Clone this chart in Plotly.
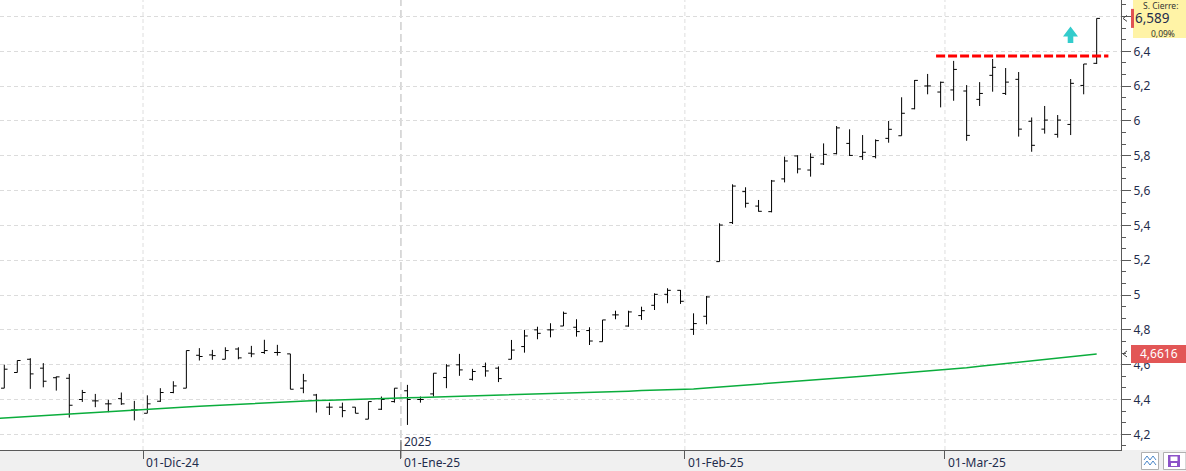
import pandas as pd
import plotly.graph_objects as go

# ---------------- data ----------------
HOLIDAYS = ["2024-12-25", "2024-12-26", "2025-01-01"]
DATES = [d for d in pd.bdate_range("2024-11-15", "2025-03-18") if d.strftime("%Y-%m-%d") not in HOLIDAYS]

OPEN = [4.465, 4.555, 4.631, 4.580, 4.525, 4.522, 4.400, 4.392, 4.375, 4.405, 4.340,
        4.321, 4.390, 4.440, 4.465, 4.654, 4.656, 4.631, 4.690, 4.666, 4.670, 4.670,
        4.662, 4.465, 4.426, 4.356, 4.356, 4.356, 4.287, 4.344, 4.388,
        4.450, 4.400, 4.432, 4.526, 4.599, 4.516, 4.589, 4.580, 4.631, 4.704, 4.800,
        4.800, 4.822, 4.815, 4.796, 4.732, 4.886, 4.822, 4.882, 4.941, 5.004, 5.027,
        4.803, 4.878, 5.192, 5.416, 5.594, 5.511, 5.479, 5.667, 5.799, 5.718, 5.753,
        5.812, 5.871, 5.795, 5.795, 5.900, 5.915, 6.070, 6.201, 6.166,
        6.178, 6.172, 6.124, 6.262, 6.158, 6.239, 5.998, 5.953, 5.923, 5.980, 6.204, 6.331]
HIGH = [4.600, 4.624, 4.637, 4.609, 4.532, 4.547, 4.455, 4.432, 4.398, 4.440, 4.392,
        4.424, 4.465, 4.505, 4.681, 4.695, 4.685, 4.700, 4.700, 4.708, 4.743, 4.714,
        4.662, 4.547, 4.432, 4.382, 4.382, 4.356, 4.388, 4.417, 4.465,
        4.484, 4.417, 4.551, 4.603, 4.662, 4.576, 4.612, 4.590, 4.742, 4.800, 4.818,
        4.838, 4.905, 4.861, 4.815, 4.857, 4.910, 4.910, 4.933, 5.010, 5.039, 5.029,
        4.895, 4.995, 5.412, 5.636, 5.619, 5.546, 5.661, 5.795, 5.803, 5.814, 5.871,
        5.971, 5.952, 5.919, 5.894, 6.000, 6.136, 6.235, 6.270, 6.226,
        6.345, 6.206, 6.223, 6.356, 6.304, 6.281, 6.020, 6.086, 6.034, 6.241, 6.327, 6.589]
LOW = [4.465, 4.555, 4.461, 4.470, 4.451, 4.296, 4.386, 4.356, 4.327, 4.369, 4.280,
       4.321, 4.386, 4.436, 4.465, 4.624, 4.628, 4.631, 4.631, 4.643, 4.662, 4.652,
       4.459, 4.436, 4.325, 4.311, 4.298, 4.321, 4.287, 4.340, 4.382,
       4.254, 4.382, 4.417, 4.465, 4.536, 4.509, 4.531, 4.500, 4.631, 4.669, 4.746,
       4.757, 4.822, 4.761, 4.713, 4.732, 4.861, 4.818, 4.857, 4.914, 4.953, 4.949,
       4.771, 4.832, 5.192, 5.408, 5.502, 5.479, 5.475, 5.647, 5.699, 5.680, 5.747,
       5.808, 5.799, 5.776, 5.785, 5.875, 5.915, 6.067, 6.153, 6.078,
       6.116, 5.886, 6.086, 6.168, 6.149, 5.910, 5.823, 5.927, 5.904, 5.919, 6.153, 6.327]
CLOSE = [4.574, 4.624, 4.547, 4.505, 4.530, 4.367, 4.440, 4.392, 4.375, 4.375, 4.340,
         4.375, 4.440, 4.478, 4.681, 4.647, 4.652, 4.681, 4.639, 4.662, 4.681, 4.670,
         4.459, 4.507, 4.394, 4.356, 4.336, 4.321, 4.388, 4.400, 4.465,
         4.400, 4.400, 4.551, 4.593, 4.570, 4.561, 4.564, 4.520, 4.684, 4.765, 4.780,
         4.800, 4.895, 4.790, 4.736, 4.857, 4.886, 4.903, 4.910, 5.004, 5.027, 4.964,
         4.836, 4.989, 5.402, 5.626, 5.527, 5.481, 5.655, 5.770, 5.724, 5.791, 5.808,
         5.960, 5.802, 5.820, 5.887, 5.952, 6.044, 6.233, 6.201, 6.222,
         6.296, 5.917, 6.158, 6.308, 6.223, 5.953, 5.860, 6.005, 6.005, 6.216, 6.327, 6.589]
MA = [4.293, 4.298, 4.302, 4.307, 4.312, 4.317, 4.321, 4.326, 4.331, 4.336, 4.340, 4.345,
      4.349, 4.353, 4.357, 4.361, 4.365, 4.369, 4.373, 4.376, 4.380, 4.384, 4.388, 4.392,
      4.394, 4.396, 4.399, 4.401, 4.403, 4.405, 4.408, 4.410,
      4.412, 4.414, 4.416, 4.419, 4.421, 4.423,
      4.425, 4.428, 4.430, 4.432, 4.435, 4.437, 4.439, 4.442, 4.444, 4.446, 4.448, 4.451,
      4.453, 4.455, 4.458, 4.460,
      4.466, 4.472, 4.477, 4.483, 4.489, 4.494, 4.500, 4.505, 4.511, 4.517, 4.522, 4.528,
      4.533, 4.539, 4.544, 4.550, 4.556, 4.561, 4.567,
      4.575, 4.583, 4.591, 4.599, 4.607, 4.615, 4.622, 4.630, 4.638, 4.646, 4.654, 4.6616]
MA_PREV = 4.289  # moving average on the session before the first visible bar

LAST_CLOSE = 6.589
CHANGE_PCT = "0,09%"
MA_LAST = 4.6616
RESISTANCE = 6.373
RESISTANCE_FROM = "2025-02-28"
MONTH_STARTS = ["2024-12-01", "2025-01-01", "2025-02-01", "2025-03-01"]
MONTH_ABBR = {1: "Ene", 2: "Feb", 3: "Mar", 12: "Dic"}
Y_TICKS = [4.2, 4.4, 4.6, 4.8, 5.0, 5.2, 5.4, 5.6, 5.8, 6.0, 6.2, 6.4, 6.6]
Y_TICK_HIDDEN = [6.6]  # label covered by the last-price box

# ---------------- layout helpers ----------------
W, H = 1186, 471
ML, MR, MT, MB = 0, 65, 0, 21
PW, PH = W - ML - MR, H - MT - MB
Y_MIN, Y_MAX = 4.1099, 6.6947
X_MIN, X_MAX = -0.33, 85.87

idx = list(range(len(DATES)))


def date_pos(d):
    d = pd.Timestamp(d)
    for i in range(len(DATES) - 1):
        if DATES[i] < d <= DATES[i + 1]:
            return i + (d - DATES[i]).days / (DATES[i + 1] - DATES[i]).days
    return float(idx[-1])


def px_x(p):  # pixel -> paper x
    return (p - ML) / PW


def px_y(p):  # pixel -> paper y
    return 1 - (p - MT) / PH


def val_y(v):  # value -> paper y
    return (v - Y_MIN) / (Y_MAX - Y_MIN)


month_pos = [date_pos(m) for m in MONTH_STARTS]
month_lbl = [f"01-{MONTH_ABBR[pd.Timestamp(m).month]}-{pd.Timestamp(m).strftime('%y')}" for m in MONTH_STARTS]

FONT = "Noto Sans"
TXT = "#1f2d4d"
AXC = "#5a5a5a"

fig = go.Figure()
fig.add_trace(go.Scatter(x=[-1] + idx, y=[MA_PREV] + MA, mode="lines",
                         line=dict(color="#0aad3c", width=1.5), hoverinfo="skip", cliponaxis=True))
fig.add_trace(go.Ohlc(x=idx, open=OPEN, high=HIGH, low=LOW, close=CLOSE,
                      increasing=dict(line=dict(color="black", width=1)),
                      decreasing=dict(line=dict(color="black", width=1)),
                      tickwidth=0.25))

shapes = []
# bottom gray strip
shapes.append(dict(type="rect", xref="paper", yref="paper", x0=px_x(0), x1=px_x(W),
                   y0=px_y(H), y1=px_y(450), fillcolor="#f0f0f0", line=dict(width=0), layer="below"))
# vertical month grid lines
for i, p in enumerate(month_pos):
    is_year = MONTH_STARTS[i].endswith("01-01")
    shapes.append(dict(type="line", xref="x", yref="paper", x0=p, x1=p, y0=0, y1=1,
                       line=dict(color="#cfcfcf" if is_year else "#dedede",
                                 width=1.5 if is_year else 1,
                                 dash="8px,4px" if is_year else "4px,3px"),
                       layer="below"))
    if is_year:
        shapes.append(dict(type="line", xref="x", yref="paper", x0=p, x1=p,
                           y0=px_y(440), y1=px_y(458), line=dict(color=AXC, width=1)))
# resistance line
shapes.append(dict(type="line", xref="x", yref="y", x0=date_pos(RESISTANCE_FROM) - 0.35, x1=idx[-1] + 0.9,
                   y0=RESISTANCE, y1=RESISTANCE, line=dict(color="#ff0000", width=3, dash="9px,3px")))
# cyan up arrow
arrow = (f"M {px_x(1070.5)} {px_y(26.5)} L {px_x(1078)} {px_y(36.5)} L {px_x(1073.3)} {px_y(36.5)} "
         f"L {px_x(1073.3)} {px_y(43)} L {px_x(1067.7)} {px_y(43)} L {px_x(1067.7)} {px_y(36.5)} "
         f"L {px_x(1063)} {px_y(36.5)} Z")
shapes.append(dict(type="path", xref="paper", yref="paper", path=arrow,
                   fillcolor="#33cccc", line=dict(width=0)))
# last price box (yellow) + red marker
yc = val_y(LAST_CLOSE)
hh = 19.5 / PH
shapes.append(dict(type="rect", xref="paper", yref="paper", x0=px_x(1133), x1=px_x(1187),
                   y0=max(yc - hh, px_y(39)), y1=min(yc + hh, 1.0), fillcolor="#fff3a6", line=dict(width=0)))
shapes.append(dict(type="rect", xref="paper", yref="paper", x0=px_x(1131), x1=px_x(1134),
                   y0=yc - 9.5 / PH, y1=yc + 9.5 / PH, fillcolor="#e05252", line=dict(width=0)))
# MA last value box (red)
ym = val_y(MA_LAST)
shapes.append(dict(type="rect", xref="paper", yref="paper", x0=px_x(1131), x1=px_x(1187),
                   y0=ym - 9 / PH, y1=ym + 9 / PH, fillcolor="#e25656", line=dict(width=0)))
# bottom-right icons
shapes.append(dict(type="rect", xref="paper", yref="paper", x0=px_x(1141.5), x1=px_x(1158.5),
                   y0=px_y(469.5), y1=px_y(452.5), fillcolor="white", line=dict(color="#b0b0b0", width=1)))
shapes.append(dict(type="path", xref="paper", yref="paper",
                   path=(f"M {px_x(1144)} {px_y(460)} L {px_x(1147)} {px_y(456)} L {px_x(1150)} {px_y(460)} "
                         f"L {px_x(1153)} {px_y(456)} L {px_x(1156)} {px_y(460)} "
                         f"M {px_x(1144)} {px_y(465)} L {px_x(1147)} {px_y(461)} L {px_x(1150)} {px_y(465)} "
                         f"L {px_x(1153)} {px_y(461)} L {px_x(1156)} {px_y(465)}"),
                   line=dict(color="#4a86c8", width=1)))
shapes.append(dict(type="rect", xref="paper", yref="paper", x0=px_x(1163.5), x1=px_x(1186),
                   y0=px_y(469.5), y1=px_y(452.5), fillcolor="white", line=dict(color="#b0b0b0", width=1)))
shapes.append(dict(type="rect", xref="paper", yref="paper", x0=px_x(1168), x1=px_x(1180),
                   y0=px_y(467), y1=px_y(455), fillcolor="#8c52c8", line=dict(width=0)))
shapes.append(dict(type="rect", xref="paper", yref="paper", x0=px_x(1170.5), x1=px_x(1177.5),
                   y0=px_y(461), y1=px_y(456.5), fillcolor="white", line=dict(width=0)))
shapes.append(dict(type="rect", xref="paper", yref="paper", x0=px_x(1171), x1=px_x(1177),
                   y0=px_y(466), y1=px_y(463), fillcolor="white", line=dict(width=0)))
# small pointer marks next to the value boxes
for yy in (yc, ym):
    shapes.append(dict(type="path", xref="paper", yref="paper",
                       path=(f"M {px_x(1127)} {yy + 3 / PH} L {px_x(1123)} {yy} L {px_x(1127)} {yy - 3 / PH}"),
                       line=dict(color="#444444", width=1)))

annotations = []
for p, lbl in zip(month_pos, month_lbl):
    annotations.append(dict(x=p, xref="x", y=px_y(462.5), yref="paper", text=lbl, showarrow=False,
                            xanchor="left", yanchor="middle", xshift=1,
                            font=dict(family=FONT, size=12, color=TXT)))
annotations.append(dict(x=date_pos("2025-01-01"), xref="x", y=px_y(441.5), yref="paper", text="2025",
                        showarrow=False, xanchor="left", yanchor="middle", xshift=1,
                        font=dict(family=FONT, size=12, color=TXT)))
# last price texts
annotations.append(dict(x=px_x(1160), xref="paper", y=px_y(0.5), yref="paper", text="S. Cierre:",
                        showarrow=False, xanchor="center", yanchor="top", borderpad=0, borderwidth=0,
                        font=dict(family=FONT, size=8.5, color="#333333")))
annotations.append(dict(x=px_x(1135), xref="paper", y=yc, yref="paper", text=f"{LAST_CLOSE:.3f}".replace(".", ","),
                        showarrow=False, xanchor="left", yanchor="middle", borderpad=0, borderwidth=0,
                        font=dict(family=FONT, size=13.5, color=TXT)))
annotations.append(dict(x=px_x(1163), xref="paper", y=px_y(39), yref="paper", text=CHANGE_PCT,
                        showarrow=False, xanchor="center", yanchor="bottom", borderpad=0, borderwidth=0,
                        font=dict(family=FONT, size=8.5, color="#333333")))
annotations.append(dict(x=px_x(1159), xref="paper", y=ym, yref="paper", text=f"{MA_LAST}".replace(".", ","),
                        showarrow=False, xanchor="center", yanchor="middle", borderpad=0, borderwidth=0,
                        font=dict(family=FONT, size=12, color="white")))

fig.update_layout(
    width=W, height=H,
    margin=dict(l=ML, r=MR, t=MT, b=MB, pad=0),
    paper_bgcolor="white", plot_bgcolor="white",
    showlegend=False,
    separators=",.",
    shapes=shapes, annotations=annotations,
    xaxis=dict(range=[X_MIN, X_MAX], rangeslider=dict(visible=False), tickmode="array",
               tickvals=month_pos, showticklabels=False, ticks="outside", ticklen=8,
               tickcolor=AXC, showgrid=False, zeroline=False, showline=True, linecolor=AXC,
               linewidth=1),
    yaxis=dict(range=[Y_MIN, Y_MAX], side="right", tickmode="array", tickvals=Y_TICKS,
               ticktext=["" if v in Y_TICK_HIDDEN else f"{v:g}".replace(".", ",") for v in Y_TICKS],
               ticks="outside", ticklen=9, tickcolor=AXC, showline=True, linecolor=AXC,
               linewidth=1, zeroline=False, showgrid=True, gridcolor="#dcdcdc", griddash="4px,3px",
               tickfont=dict(family=FONT, size=12, color=TXT),
               minor=dict(tick0=4.2, dtick=0.2 / 3, ticks="outside", ticklen=4, tickcolor=AXC,
                          showgrid=False)),
)

fig.write_html("out.html")
